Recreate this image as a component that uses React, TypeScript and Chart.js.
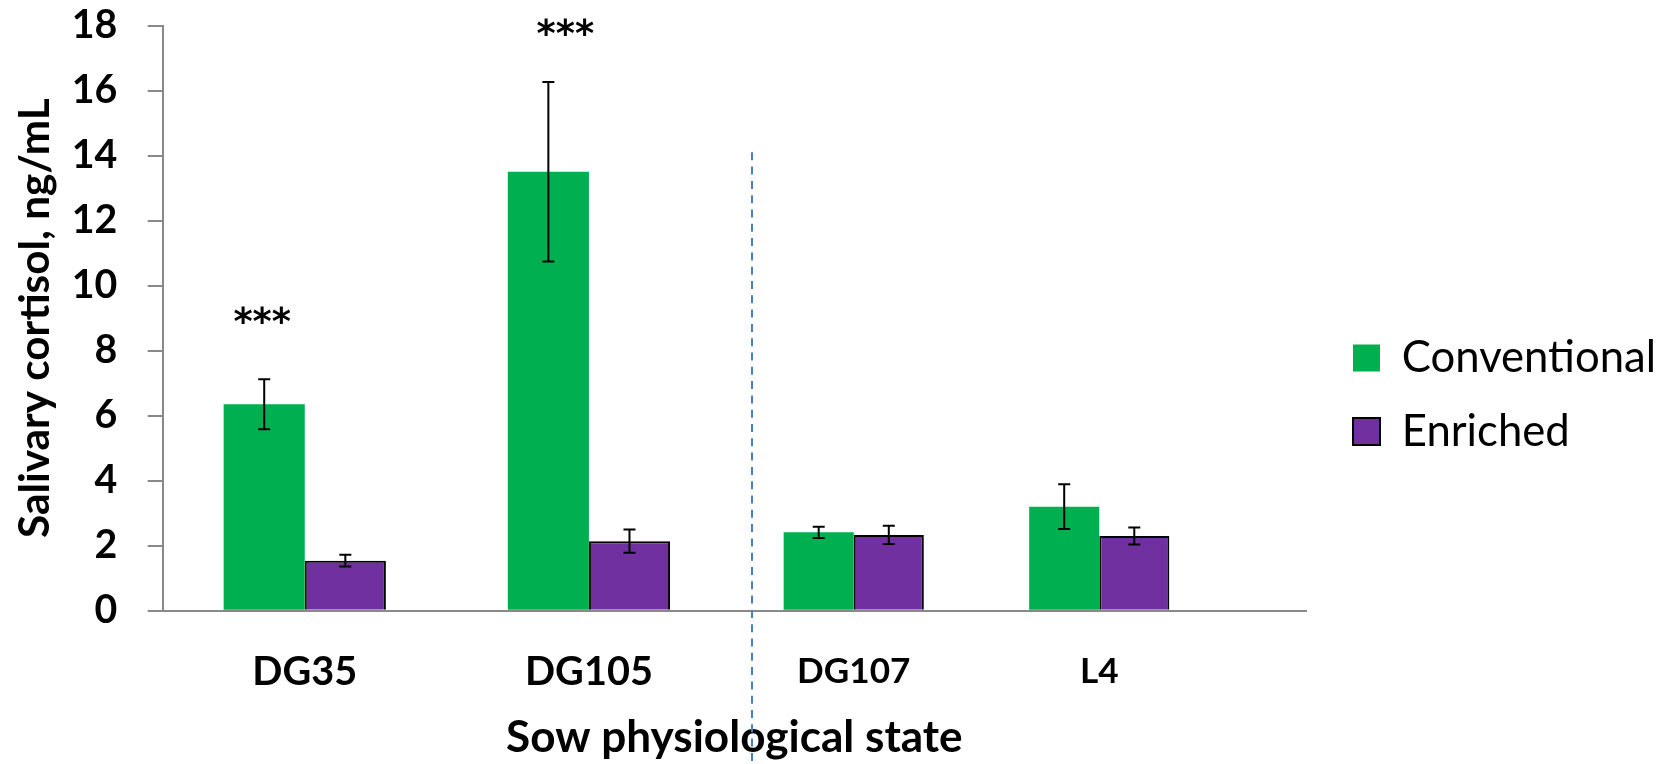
import React, { useEffect, useRef } from 'react';
import { Chart, registerables } from 'chart.js';

Chart.register(...registerables);

// ---------------- data ----------------
const categories = ['DG35', 'DG105', 'DG107', 'L4'];
const seriesNames = ['Conventional', 'Enriched'];
const conventional = [6.35, 13.5, 2.41, 3.2];
const conventionalErr = [0.77, 2.76, 0.17, 0.69];
const enriched = [1.54, 2.14, 2.33, 2.3];
const enrichedErr = [0.18, 0.36, 0.28, 0.26];
const significance = ['***', '***', '', ''];
const significanceLevel = [9.1, 17.95, 0, 0];
const yMin = 0;
const yMax = 18;
const yStep = 2;
const leftPanelCount = 2;
const yTitle = 'Salivary cortisol, ng/mL';
const xTitle = 'Sow physiological state';

// ---------------- styling / layout ----------------
const W = 1676;
const H = 764;
const FAMILY = 'Lato, "Open Sans", sans-serif';
const STAR_FAMILY = '"DejaVu Sans", sans-serif';
const GREEN = '#00B050';
const PURPLE = '#7030A0';
const AXIS = '#898989';

const plotLeft = 162.7;
const plotRight = 1306;
const plotTop = 25.5;
const plotBottom = 610.7;
const legendLeft = 1323;
const legendPad = 30;
const legendBox = 27;

function measure(text: string, weight: string, size: number, family = FAMILY) {
  const c = document.createElement('canvas').getContext('2d')!;
  c.font = `${weight} ${size}px ${family}`;
  return c.measureText(text).width;
}
function fitSize(text: string, weight: string, target: number, family = FAMILY) {
  return (100 * target) / measure(text, weight, 100, family);
}

const errorBarPlugin = {
  id: 'errorBars',
  afterDatasetsDraw(chart: any) {
    const { ctx } = chart;
    const ys = chart.scales.y;
    chart.data.datasets.forEach((ds: any, di: number) => {
      const meta = chart.getDatasetMeta(di);
      meta.data.forEach((bar: any, i: number) => {
        const v = ds.data[i];
        const e = ds.errors[i];
        const t = ys.getPixelForValue(v + e);
        const b = ys.getPixelForValue(v - e);
        ctx.save();
        ctx.strokeStyle = '#000';
        ctx.lineWidth = 2;
        ctx.beginPath();
        ctx.moveTo(bar.x, t);
        ctx.lineTo(bar.x, b);
        ctx.moveTo(bar.x - 6, t);
        ctx.lineTo(bar.x + 6, t);
        ctx.moveTo(bar.x - 6, b);
        ctx.lineTo(bar.x + 6, b);
        ctx.stroke();
        ctx.restore();
      });
    });
  },
};

const significancePlugin = {
  id: 'significance',
  afterDatasetsDraw(chart: any, _a: any, opts: any) {
    const { ctx } = chart;
    const ys = chart.scales.y;
    ctx.save();
    ctx.font = `bold ${opts.size}px ${STAR_FAMILY}`;
    ctx.fillStyle = '#000';
    ctx.textAlign = 'center';
    ctx.textBaseline = 'alphabetic';
    significance.forEach((s, i) => {
      if (!s) return;
      const left = i < leftPanelCount;
      const bar = chart.getDatasetMeta(left ? 0 : 2).data[left ? i : i - leftPanelCount];
      const m = ctx.measureText(s);
      const yc = ys.getPixelForValue(significanceLevel[i]);
      ctx.fillText(s, bar.x + opts.offsets[i], yc + (m.actualBoundingBoxAscent - m.actualBoundingBoxDescent) / 2);
    });
    ctx.restore();
  },
};

const dividerPlugin = {
  id: 'divider',
  afterDraw(chart: any, _a: any, opts: any) {
    const { ctx, chartArea } = chart;
    const x = Math.round(chartArea.left + (chartArea.right - chartArea.left) * opts.fraction);
    const top = chart.scales.y.getPixelForValue(opts.fromValue);
    ctx.save();
    ctx.strokeStyle = opts.color;
    ctx.lineWidth = 2;
    ctx.setLineDash([8, 6.3]);
    ctx.beginPath();
    ctx.moveTo(x, top);
    ctx.lineTo(x, chart.height);
    ctx.stroke();
    ctx.restore();
  },
};

export default function App() {
  const ref = useRef<HTMLCanvasElement>(null);

  useEffect(() => {
    document.body.style.margin = '0';
    Chart.defaults.font.family = FAMILY;

    const sizes = {
      yTick: fitSize('18', 'bold', 45.6),
      xTickL: fitSize('DG35', 'bold', 105),
      xTickR: fitSize('DG107', 'bold', 113.3),
      yTitle: fitSize(yTitle, 'bold', 440),
      xTitle: fitSize(xTitle, 'bold', 456.7),
      legend: fitSize(seriesNames[0], 'normal', 254.3),
      stars: fitSize('***', 'bold', 57.6, STAR_FAMILY),
    };

    const legendTextW = measure(seriesNames[0], 'normal', sizes.legend);
    const legendW = legendPad + legendBox + sizes.legend / 2 + legendTextW + 10;
    const padRight = W - legendLeft - legendW;

    const labelMid = 672;
    const xStackH = 86;
    const titleTop = plotBottom + xStackH;
    const titlePadTop = 737.5 - titleTop - 0.6 * sizes.xTitle;
    const titlePadBottom = Math.max(0, H - (titleTop + titlePadTop + 1.2 * sizes.xTitle));
    const yTitlePad = 52 - 0.387 * sizes.yTitle - 0.6 * sizes.yTitle;

    const boundaryA = 731;
    const boundaryB = 1222;

    // each panel has its own index axis; bars stay vertical via dataset indexAxis
    const barCommon = { indexAxis: 'x', categoryPercentage: 0.571, barPercentage: 1, yAxisID: 'y' };
    const leftCats = categories.slice(0, leftPanelCount);
    const rightCats = categories.slice(leftPanelCount);

    const fixX = (s: any) => {
      s.height = xStackH;
      s.paddingLeft = 0;
      s.paddingRight = 0;
      s.paddingTop = 0;
      s.paddingBottom = 0;
    };
    const xCommon = (labels: string[], weight: number, size: number) => ({
      type: 'category' as const,
      labels,
      position: 'bottom' as const,
      stack: 'xs',
      stackWeight: weight,
      offset: true,
      grid: { display: false, drawTicks: false, offset: true },
      border: { display: true, color: AXIS, width: 2 },
      ticks: {
        color: '#000',
        font: { family: FAMILY, weight: 'bold' as const, size },
        padding: labelMid - plotBottom - 0.6 * size,
        maxRotation: 0,
        minRotation: 0,
        autoSkip: false,
      },
      afterFit: fixX,
    });

    const chart = new Chart(ref.current!, {
      type: 'bar',
      data: {
        datasets: [
          { ...barCommon, label: seriesNames[0], data: conventional.slice(0, leftPanelCount), errors: conventionalErr.slice(0, leftPanelCount), xAxisID: 'xl', backgroundColor: GREEN, borderWidth: 0 },
          { ...barCommon, label: seriesNames[1], data: enriched.slice(0, leftPanelCount), errors: enrichedErr.slice(0, leftPanelCount), xAxisID: 'xl', backgroundColor: PURPLE, borderColor: '#000', borderWidth: 2 },
          { ...barCommon, label: seriesNames[0], data: conventional.slice(leftPanelCount), errors: conventionalErr.slice(leftPanelCount), xAxisID: 'xr', backgroundColor: GREEN, borderWidth: 0 },
          { ...barCommon, label: seriesNames[1], data: enriched.slice(leftPanelCount), errors: enrichedErr.slice(leftPanelCount), xAxisID: 'xr', backgroundColor: PURPLE, borderColor: '#000', borderWidth: 2 },
        ] as any,
      },
      options: {
        indexAxis: 'y',
        responsive: false,
        animation: false,
        events: [],
        layout: { padding: { top: plotTop, right: padRight, bottom: 0, left: 0 } },
        plugins: {
          legend: {
            position: 'right',
            align: 'center',
            maxWidth: 600,
            labels: {
              boxWidth: legendBox,
              boxHeight: legendBox,
              padding: legendPad,
              color: '#000',
              font: { family: FAMILY, size: sizes.legend, weight: 'normal' },
              filter: (item: any) => item.datasetIndex < 2,
            },
          },
          title: {
            display: true,
            position: 'bottom',
            fullSize: false,
            text: xTitle,
            color: '#000',
            font: { family: FAMILY, weight: 'bold', size: sizes.xTitle },
            padding: { top: titlePadTop, bottom: titlePadBottom },
          },
          tooltip: { enabled: false },
          significance: { size: sizes.stars, offsets: [-2, 17, 0, 0] },
          divider: { fraction: (751.7 - plotLeft) / (plotRight - plotLeft), fromValue: 14.1, color: '#4A7EC0' },
        } as any,
        scales: {
          y: {
            type: 'linear',
            position: 'left',
            stacked: false,
            offset: false,
            beginAtZero: true,
            min: yMin,
            max: yMax,
            ticks: { stepSize: yStep, color: '#000', padding: 30.4, font: { family: FAMILY, weight: 'bold', size: sizes.yTick } },
            grid: { drawOnChartArea: false, offset: false, color: AXIS, lineWidth: 2, tickLength: 15, tickWidth: 2 },
            border: { color: AXIS, width: 2 },
            title: {
              display: true,
              text: yTitle,
              color: '#000',
              font: { family: FAMILY, weight: 'bold', size: sizes.yTitle },
              padding: { top: yTitlePad, bottom: 0 },
            },
            afterFit: (s: any) => {
              s.width = plotLeft;
              s.paddingTop = 0;
              s.paddingBottom = 0;
            },
          },
          xl: xCommon(leftCats, boundaryA - plotLeft, sizes.xTickL),
          xr: xCommon(rightCats, boundaryB - boundaryA, sizes.xTickR),
          xe: { ...xCommon([''], plotRight - boundaryB, sizes.xTickL), ticks: { display: false } },
          gap: {
            type: 'linear',
            position: 'right',
            display: true,
            offset: false,
            grid: { display: false, drawTicks: false },
            border: { display: false },
            ticks: { display: false },
            afterFit: (s: any) => {
              s.width = legendLeft - plotRight;
              s.paddingTop = 0;
              s.paddingBottom = 0;
            },
          },
        } as any,
      } as any,
      plugins: [errorBarPlugin, significancePlugin, dividerPlugin],
    });
    return () => chart.destroy();
  }, []);

  return (
    <div style={{ position: 'fixed', left: 0, top: 0, width: W, height: H, background: '#fff' }}>
      <canvas ref={ref} width={W} height={H} style={{ display: 'block', width: W, height: H }} />
    </div>
  );
}
